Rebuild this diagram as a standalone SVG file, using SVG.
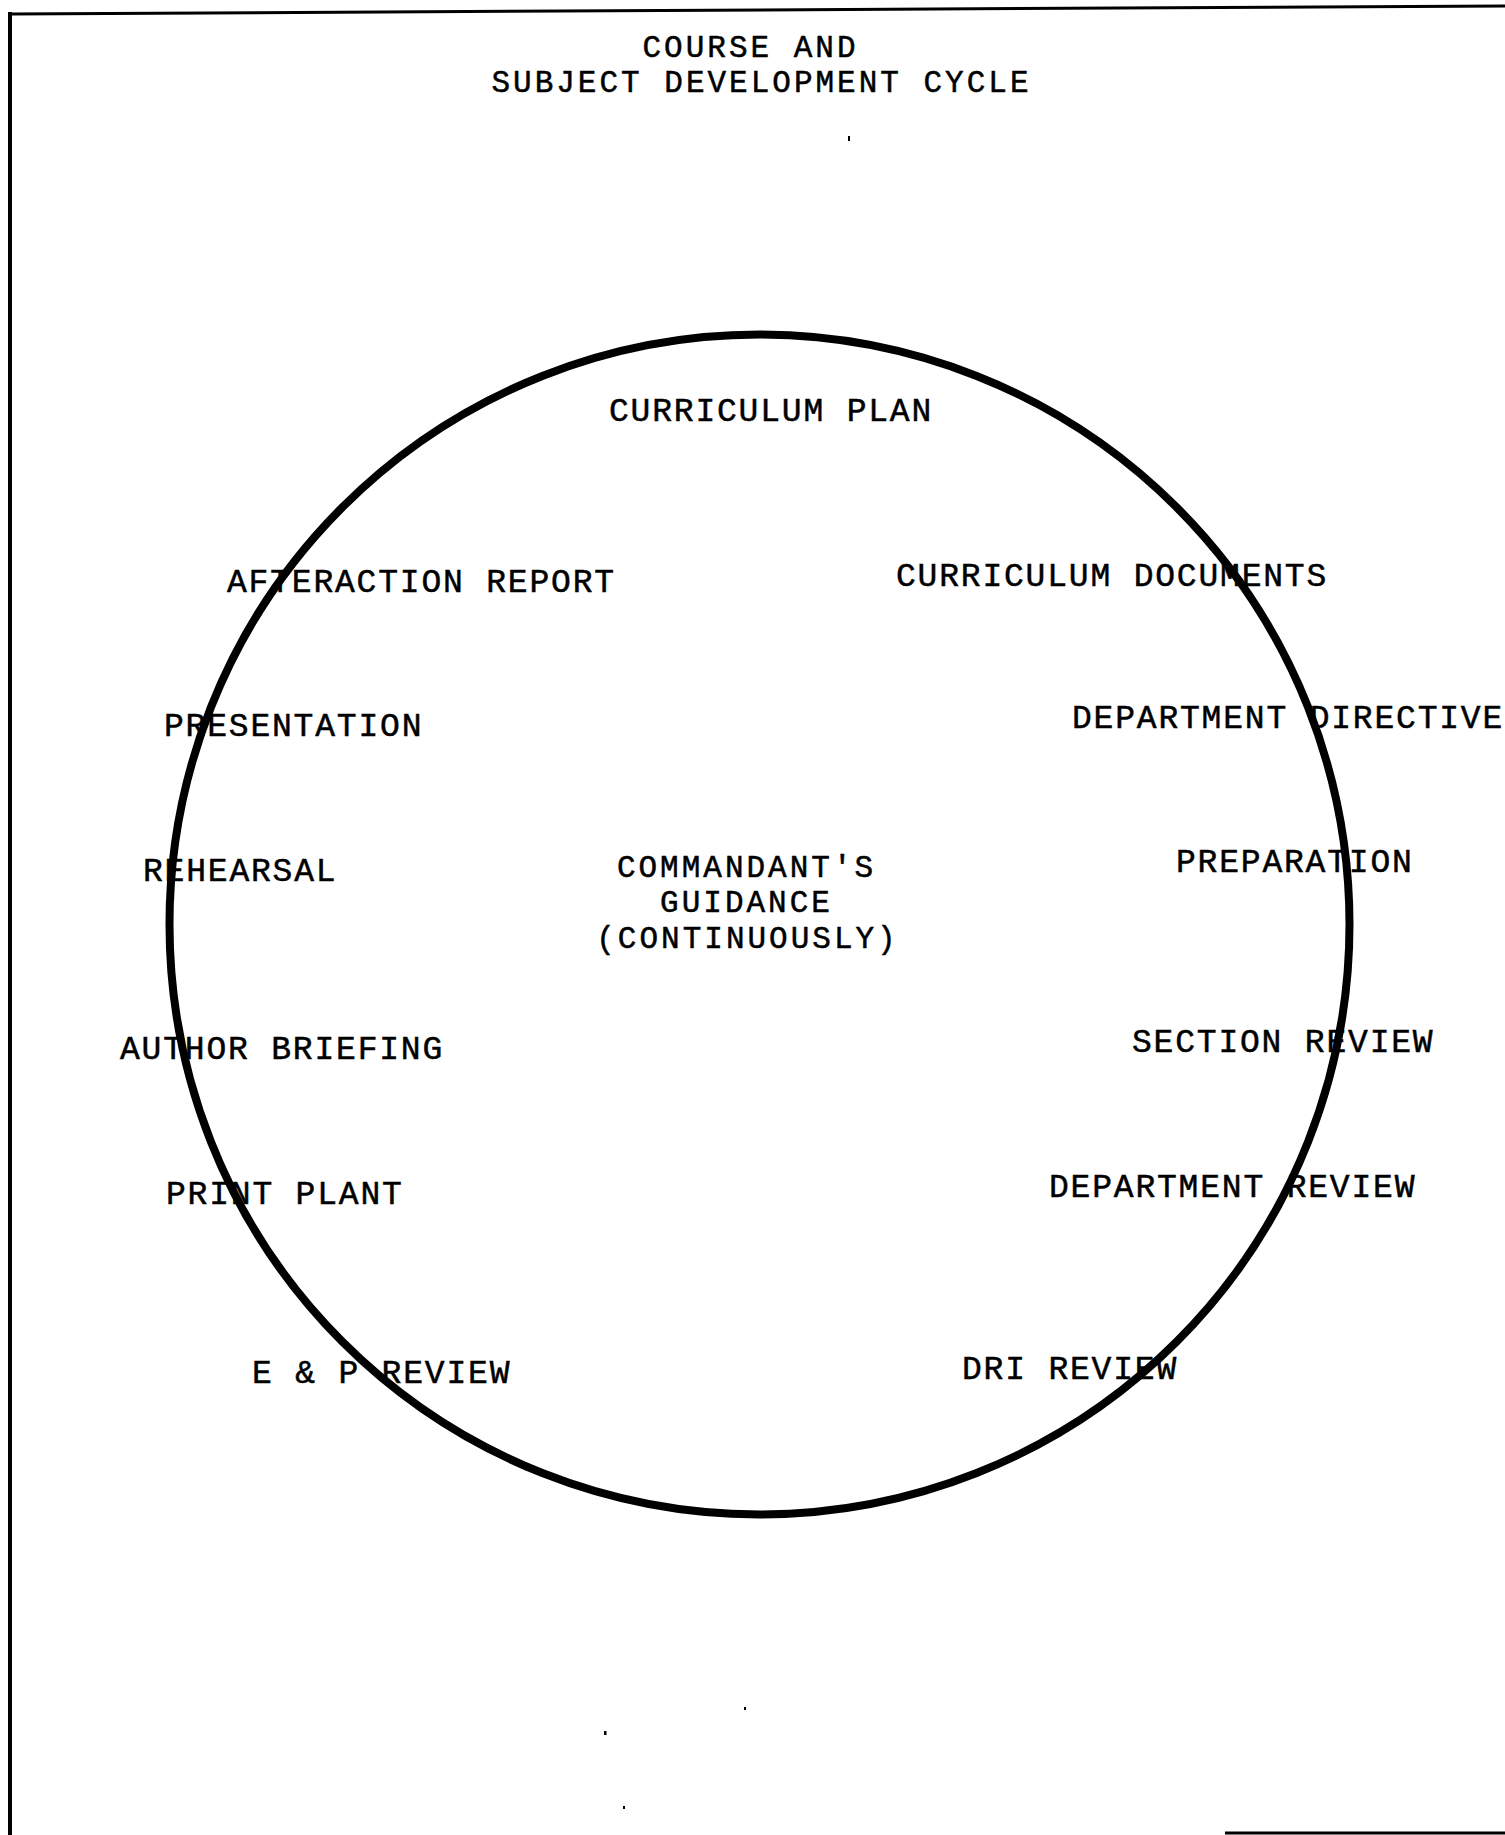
<svg xmlns="http://www.w3.org/2000/svg" width="1505" height="1835" viewBox="0 0 1505 1835">
<style>
text { font-family: "Liberation Mono", "Courier New", monospace; font-size: 33px; letter-spacing: 1.8px; fill: #000; stroke: #000; stroke-width: 0.5; }
.stack { font-size: 31px; letter-spacing: 3px; }
.mid { text-anchor: middle; }
.frame { stroke: #000; fill: none; }
.cycle { stroke: #000; stroke-width: 8; fill: none; }
.speck { fill: #000; }
</style>
<rect width="1505" height="1835" fill="#fff"/>
<g id="frame">
  <line class="frame" x1="10" y1="14" x2="1505" y2="6" stroke-width="3"/>
  <line class="frame" x1="10" y1="12" x2="10" y2="1835" stroke-width="4"/>
  <line class="frame" x1="1225" y1="1833" x2="1505" y2="1833" stroke-width="3" stroke="#444"/>
</g>
<g id="title">
  <text class="mid stack" x="750.5" y="57">COURSE AND</text>
  <text class="mid stack" x="761.5" y="92">SUBJECT DEVELOPMENT CYCLE</text>
</g>
<g id="connectors">
  <circle class="cycle" cx="759.5" cy="924.5" r="590"/>
</g>
<g id="node-curriculum-plan"><text x="609" y="421">CURRICULUM PLAN</text></g>
<g id="node-curriculum-documents"><text x="896" y="586">CURRICULUM DOCUMENTS</text></g>
<g id="node-department-directive"><text x="1072" y="728">DEPARTMENT DIRECTIVE</text></g>
<g id="node-preparation"><text x="1176" y="872">PREPARATION</text></g>
<g id="node-section-review"><text x="1132" y="1052">SECTION REVIEW</text></g>
<g id="node-department-review"><text x="1049" y="1197">DEPARTMENT REVIEW</text></g>
<g id="node-dri-review"><text x="962" y="1379">DRI REVIEW</text></g>
<g id="node-ep-review"><text x="252" y="1383">E &amp; P REVIEW</text></g>
<g id="node-print-plant"><text x="166" y="1204">PRINT PLANT</text></g>
<g id="node-author-briefing"><text x="120" y="1059">AUTHOR BRIEFING</text></g>
<g id="node-rehearsal"><text x="143" y="881">REHEARSAL</text></g>
<g id="node-presentation"><text x="164" y="736">PRESENTATION</text></g>
<g id="node-afteraction-report"><text x="227" y="592">AFTERACTION REPORT</text></g>
<g id="node-commandants-guidance">
  <text class="mid stack" x="746.5" y="877">COMMANDANT'S</text>
  <text class="mid stack" x="746.5" y="912">GUIDANCE</text>
  <text class="mid stack" x="747.5" y="948">(CONTINUOUSLY)</text>
</g>
<g id="specks">
  <rect class="speck" x="848" y="136" width="2" height="5"/>
  <rect class="speck" x="744" y="1707" width="2" height="3"/>
  <rect class="speck" x="604" y="1731" width="2.5" height="4"/>
  <rect class="speck" x="623" y="1806" width="2" height="3"/>
</g>
</svg>
